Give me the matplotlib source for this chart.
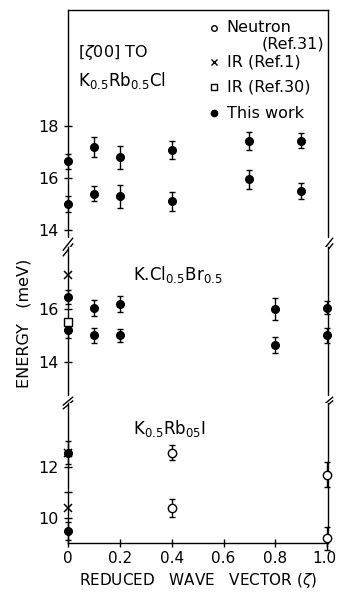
import matplotlib.pyplot as plt
import matplotlib.transforms as mtransforms
import numpy as np

# KRbCl panel (this work), two branches
cl_x = [0, 0.1, 0.2, 0.4, 0.7, 0.9]
cl_hi = [16.65, 17.2, 16.8, 17.1, 17.45, 17.45]
cl_hi_err = [0.3, 0.4, 0.45, 0.35, 0.35, 0.3]
cl_lo = [15.0, 15.4, 15.3, 15.1, 15.95, 15.5]
cl_lo_err = [0.3, 0.3, 0.45, 0.35, 0.35, 0.3]

# KClBr panel
br_x = [0, 0.1, 0.2, 0.8, 1.0]
br_hi = [16.45, 16.05, 16.2, 16.0, 16.05]
br_hi_err = [0.25, 0.3, 0.3, 0.4, 0.25]
br_lo = [15.2, 15.0, 15.0, 14.65, 15.0]
br_lo_err = [0.3, 0.3, 0.25, 0.3, 0.3]
br_ir1_x, br_ir1_y = [0], [17.3]
br_ir30_x, br_ir30_y = [0], [15.5]

# KRbI panel
i_x = [0, 0]
i_y = [12.55, 9.5]
i_err = [0.45, 0.35]
i_ir1_x, i_ir1_y = [0, 0], [12.55, 10.4]
i_neu_x = [0.4, 0.4, 1.0, 1.0]
i_neu_y = [12.55, 10.4, 11.7, 9.2]
i_neu_err = [0.3, 0.35, 0.5, 0.45]

xticks = [0, 0.2, 0.4, 0.6, 0.8, 1.0]
xticklabels = ['0', '0.2', '0.4', '0.6', '0.8', '1.0']

plt.rcParams['font.family'] = 'DejaVu Sans'
plt.rcParams['font.size'] = 11

fig = plt.figure(figsize=(3.37, 5.95), dpi=100)
gs = fig.add_gridspec(3, 1, height_ratios=[237, 156, 140], hspace=0,
                      left=68/337, right=328/337, bottom=1-543/595, top=1-10/595)
ax1 = fig.add_subplot(gs[0])
ax2 = fig.add_subplot(gs[1], sharex=ax1)
ax3 = fig.add_subplot(gs[2], sharex=ax1)

ax1.set_ylim(13.34, 22.5)
ax2.set_ylim(12.45, 18.34)
ax3.set_ylim(9.02, 14.5)
ax1.set_xlim(0, 1.003)

ebkw = dict(fmt='o', color='k', ms=5.5, capsize=2.5, elinewidth=1, capthick=1, clip_on=False)

ax1.errorbar(cl_x, cl_hi, yerr=cl_hi_err, **ebkw)
ax1.errorbar(cl_x, cl_lo, yerr=cl_lo_err, **ebkw)

ax2.errorbar(br_x, br_hi, yerr=br_hi_err, **ebkw)
ax2.errorbar(br_x, br_lo, yerr=br_lo_err, **ebkw)
ax2.plot(br_ir1_x, br_ir1_y, 'x', color='k', ms=6, mew=1.1, clip_on=False, zorder=5)
ax2.plot(br_ir30_x, br_ir30_y, 's', mfc='white', mec='k', ms=5.5, mew=1, clip_on=False, zorder=5)

ax3.errorbar(i_x, i_y, yerr=i_err, **ebkw)
ax3.plot(i_ir1_x, i_ir1_y, 'x', color='k', ms=6, mew=1.1, clip_on=False, zorder=5)
ax3.errorbar(i_neu_x, i_neu_y, yerr=i_neu_err, fmt='o', color='k', mfc='white', ms=6,
             capsize=2.5, elinewidth=1, capthick=1, clip_on=False, zorder=5)

# spines and ticks
for ax in (ax1, ax2, ax3):
    ax.tick_params(direction='inout', length=6, width=1, right=False, top=False, labelsize=11.5)
    for s in ax.spines.values():
        s.set_linewidth(1)
ax1.spines['bottom'].set_visible(False)
ax2.spines['top'].set_visible(False)
ax2.spines['bottom'].set_visible(False)
ax3.spines['top'].set_visible(False)
for ax in (ax1, ax2):
    ax.tick_params(axis='x', bottom=False, labelbottom=False)

ax1.set_yticks([14, 16, 18])
ax2.set_yticks([14, 16])
ax3.set_yticks([10, 11, 12])
ax3.set_yticklabels(['10', '', '12'])
ax3.set_xticks(xticks)
ax3.set_xticklabels(xticklabels)
ax3.tick_params(axis='x', pad=3, labelsize=11)
# pull the last tick label in a little so it stays inside the figure
lab = ax3.get_xticklabels()[-1]
lab.set_transform(lab.get_transform() + mtransforms.ScaledTranslation(-3/100, 0, fig.dpi_scale_trans))

# break marks on both spines
for ax in (ax1, ax2):
    for xs in (0, 1):
        ax.plot([xs, xs], [-0.03, 0.03], color='white', lw=3, transform=ax.transAxes,
                clip_on=False, zorder=6)
        for dy in (-0.012, 0.012):
            ax.plot([xs - 0.018, xs + 0.018], [dy - 0.025, dy + 0.025], color='k', lw=1,
                    transform=ax.transAxes, clip_on=False, zorder=7)

# panel labels
ax1.text(0.04, 0.80, r'[$\zeta$00] TO', transform=ax1.transAxes, fontsize=11.5)
ax1.text(0.04, 0.68, r'K$_{0.5}$Rb$_{0.5}$Cl', transform=ax1.transAxes, fontsize=12)
ax2.text(0.25, 0.79, r'K.Cl$_{0.5}$Br$_{0.5}$', transform=ax2.transAxes, fontsize=12)
ax3.text(0.25, 0.78, r'K$_{0.5}$Rb$_{05}$I', transform=ax3.transAxes, fontsize=12)

# legend
lx = 0.56
ax1.plot([lx], [0.925], 'o', mfc='white', mec='k', ms=4, transform=ax1.transAxes)
ax1.text(lx + 0.05, 0.925, 'Neutron', va='center', transform=ax1.transAxes, fontsize=11.5)
ax1.text(0.985, 0.855, '(Ref.31)', va='center', ha='right', transform=ax1.transAxes, fontsize=11.5)
ax1.plot([lx], [0.78], 'x', color='k', ms=4.5, transform=ax1.transAxes)
ax1.text(lx + 0.05, 0.78, 'IR (Ref.1)', va='center', transform=ax1.transAxes, fontsize=11.5)
ax1.plot([lx], [0.675], 's', mfc='white', mec='k', ms=4, transform=ax1.transAxes)
ax1.text(lx + 0.05, 0.675, 'IR (Ref.30)', va='center', transform=ax1.transAxes, fontsize=11.5)
ax1.plot([lx], [0.565], 'o', color='k', ms=4.5, transform=ax1.transAxes)
ax1.text(lx + 0.05, 0.565, 'This work', va='center', transform=ax1.transAxes, fontsize=11.5)

ax3.set_xlabel(r'REDUCED   WAVE   VECTOR ($\zeta$)', fontsize=11, labelpad=3)
fig.text(0.07, 0.457, 'ENERGY   (meV)', rotation=90, va='center', ha='center', fontsize=11.5)

plt.savefig('out.png', dpi=100)
